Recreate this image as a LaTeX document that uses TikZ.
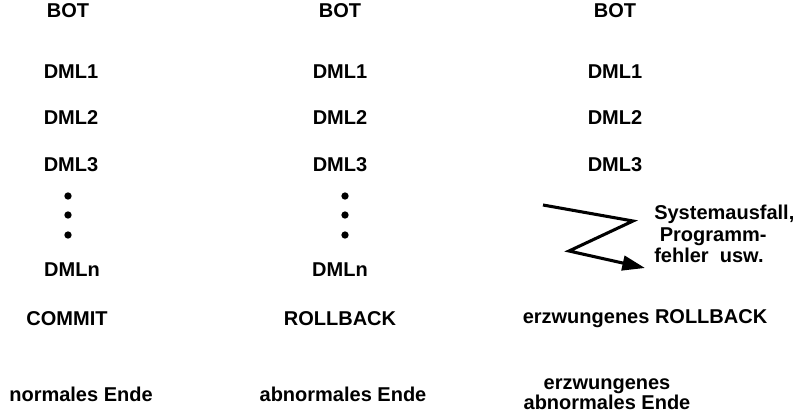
\documentclass[tikz,border=0pt]{standalone}
\usepackage{fontspec}
\setmainfont{Liberation Sans}
\usetikzlibrary{arrows.meta}
\begin{document}
\begin{tikzpicture}[x=0.75pt,y=-0.75pt,
  lbl/.style={font=\fontsize{15}{16}\selectfont\bfseries, inner sep=0pt, anchor=center},
  vdot/.style={circle, fill=black, inner sep=0pt, minimum size=5.5pt},
  zig/.style={line width=2.3pt, line join=miter, -{Triangle[length=17pt,width=11pt]}}]
\useasboundingbox (0,0) rectangle (800,414);
% column 1
\node[lbl] (b1) at (68,11) {BOT};
\node[lbl] (a1) at (71,72) {DML1};
\node[lbl] (c1) at (71,118) {DML2};
\node[lbl] (d1) at (71,165) {DML3};
\node[vdot] (p11) at (68,196) {};
\node[vdot] (p12) at (68,215) {};
\node[vdot] (p13) at (68,235) {};
\node[lbl] (n1) at (72,270) {DMLn};
\node[lbl] (e1) at (67,319) {COMMIT};
\node[lbl] (f1) at (81,394) {normales Ende};
% column 2
\node[lbl] (b2) at (340,11) {BOT};
\node[lbl] (a2) at (340,72) {DML1};
\node[lbl] (c2) at (340,118) {DML2};
\node[lbl] (d2) at (340,165) {DML3};
\node[vdot] (p21) at (345,196) {};
\node[vdot] (p22) at (345,215) {};
\node[vdot] (p23) at (345,235) {};
\node[lbl] (n2) at (340,270) {DMLn};
\node[lbl] (e2) at (340,319) {ROLLBACK};
\node[lbl] (f2) at (343,394) {abnormales Ende};
% column 3
\node[lbl] (b3) at (615,11) {BOT};
\node[lbl] (a3) at (615,72) {DML1};
\node[lbl] (c3) at (615,118) {DML2};
\node[lbl] (d3) at (615,165) {DML3};
\coordinate (z1) at (543,205);
\coordinate (z2) at (633,221);
\coordinate (z3) at (569,251);
\coordinate (z4) at (645,268);
\draw[zig] (z1) -- (z2) -- (z3) -- (z4);
\node[lbl, anchor=west, align=left] (s3) at (654,234)
  {Systemausfall,\\\ Programm-\\fehler\ \ usw.};
\node[lbl] (e3) at (645,319) {erzwungenes ROLLBACK};
\node[lbl, align=center, font=\fontsize{15}{14}\selectfont\bfseries] (f3) at (607,394) {erzwungenes\\abnormales Ende};
\end{tikzpicture}
\end{document}
